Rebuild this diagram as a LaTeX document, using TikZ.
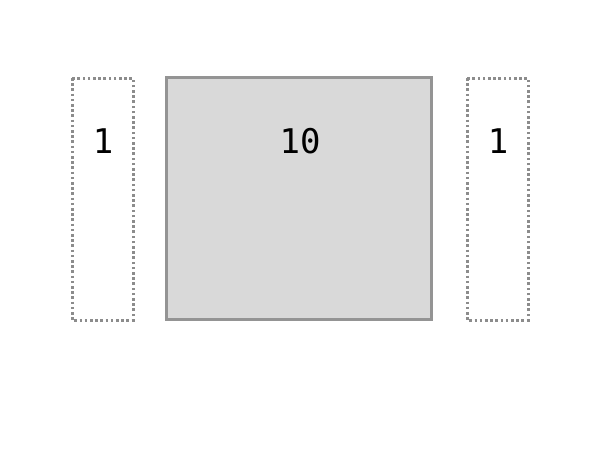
\documentclass[tikz,border=0pt]{standalone}
\usepackage{fontspec}
\setmonofont{DejaVu Sans Mono}
\begin{document}
\begin{tikzpicture}[x=1pt,y=-1pt,
  dotbox/.style={draw=black!45, line width=3pt, dash pattern=on 2.6pt off 2.6pt},
  mainbox/.style={draw=black!42, fill=black!15, line width=3pt},
  num/.style={font=\ttfamily\fontsize{34}{34}\selectfont, text=black}]
\useasboundingbox (0,0) rectangle (600,450);
\draw[dotbox] (72,78) rectangle (133,320);
\draw[mainbox] (166,77) rectangle (431,319);
\draw[dotbox] (467,78) rectangle (528,320);
\node[num] (a) at (103,141) {1};
\node[num] (b) at (300,141) {10};
\node[num] (c) at (498,141) {1};
\end{tikzpicture}
\end{document}
